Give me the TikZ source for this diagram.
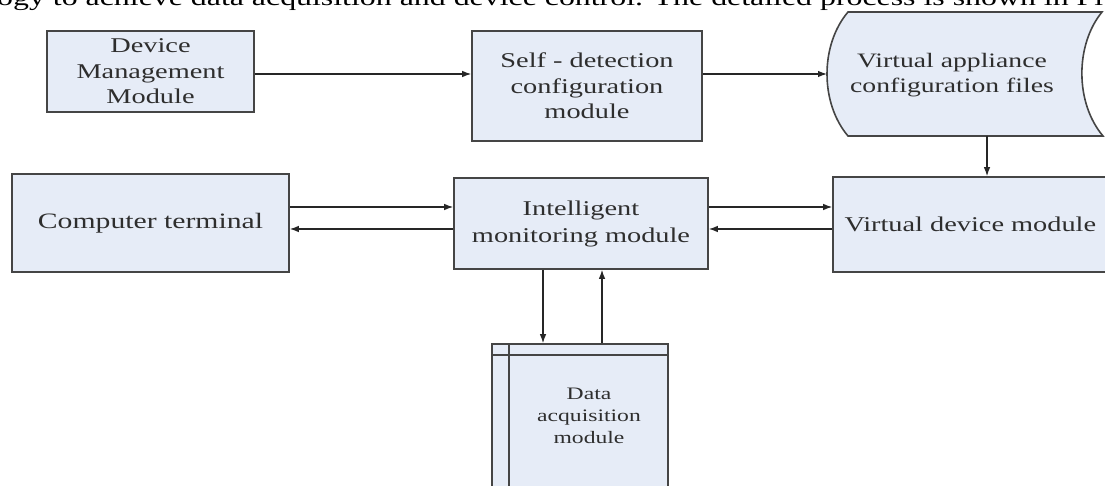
\documentclass[tikz,border=0pt]{standalone}
\usepackage{fontspec}
\setmainfont[FakeStretch=1.35]{Liberation Serif}
\usetikzlibrary{arrows.meta}
\definecolor{boxfill}{HTML}{E6ECF7}
\definecolor{boxline}{HTML}{454545}
\definecolor{labeltext}{HTML}{2E2E2E}
\begin{document}
\begin{tikzpicture}[x=1pt,y=-1pt,
  box/.style={draw=boxline, line width=1.6pt, fill=boxfill, text=labeltext,
    align=center, inner sep=0pt, font=\fontsize{21}{25.5}\selectfont},
  link/.style={draw=black!85, line width=1.2pt, -{Latex[length=9pt,width=6.5pt]}},
  lbl/.style={text=labeltext, align=center, inner sep=0pt}
]
\useasboundingbox (0,0) rectangle (1105,486);
\begin{scope}
\clip (0,0) rectangle (1105,486);

% running text of the page above the figure
\node[anchor=base west, inner sep=0pt, font=\fontsize{23.6}{28}\selectfont]
  (pagetext) at (-3,6) {ogy to achieve data acquisition and device control. The detailed process is shown in Fi};

% boxes
\node[box, minimum width=207pt, minimum height=81pt] (dmm) at (150.5,71.5)
  {Device\\Management\\Module};
\node[box, minimum width=230pt, minimum height=110pt] (sdm) at (587,86)
  {Self - detection\\configuration\\module};
\node[box, minimum width=277pt, minimum height=98pt, font=\fontsize{22}{26}\selectfont] (ct) at (150.5,223)
  {Computer terminal};
\node[box, minimum width=254pt, minimum height=91pt, font=\fontsize{21}{27}\selectfont] (imm) at (581,223.5)
  {Intelligent\\monitoring module};
\node[box, minimum width=287pt, minimum height=95pt, font=\fontsize{21}{25}\selectfont,
  text width=270pt, align=left, inner xsep=0pt] (vdm) at (976.5,224.5)
  {\hspace*{3pt}Virtual device module};

% stored data shape for configuration files
\filldraw[draw=boxline, line width=1.6pt, fill=boxfill]
  (848,12) -- (1102,12) .. controls (1075,45) and (1075,103) .. (1103,136)
  -- (848,136) .. controls (820,103) and (820,45) .. (848,12) -- cycle;
\coordinate (vacL) at (827,74);
\coordinate (vacB) at (987,136);
\node[lbl, font=\fontsize{20.5}{25}\selectfont] (vac) at (952,75)
  {Virtual appliance\\configuration files};

% data acquisition module with internal storage lines
\node[box, minimum width=176pt, minimum height=160pt] (daq) at (580,424) {};
\draw[draw=boxline, line width=1.6pt]
  ([xshift=18pt]daq.north west) -- ([xshift=18pt]daq.south west);
\draw[draw=boxline, line width=1.6pt]
  ([yshift=-12pt]daq.north west) -- ([yshift=-12pt]daq.north east);
\node[lbl, font=\fontsize{17.5}{22}\selectfont] (daqtext) at (589,416)
  {Data\\acquisition\\module};

% connectors
\draw[link] (dmm.east |- 0,74) -- (sdm.west |- 0,74);
\draw[link] (sdm.east |- 0,74) -- (vacL);
\draw[link] (vacB) -- (vacB |- vdm.north);
\draw[link] (ct.east |- 0,207) -- (imm.west |- 0,207);
\draw[link] (imm.west |- 0,229) -- (ct.east |- 0,229);
\draw[link] (imm.east |- 0,207) -- (vdm.west |- 0,207);
\draw[link] (vdm.west |- 0,229) -- (imm.east |- 0,229);
\draw[link] (imm.south -| 543,0) -- (daq.north -| 543,0);
\draw[link] (daq.north -| 602,0) -- (imm.south -| 602,0);
\end{scope}
\end{tikzpicture}
\end{document}
